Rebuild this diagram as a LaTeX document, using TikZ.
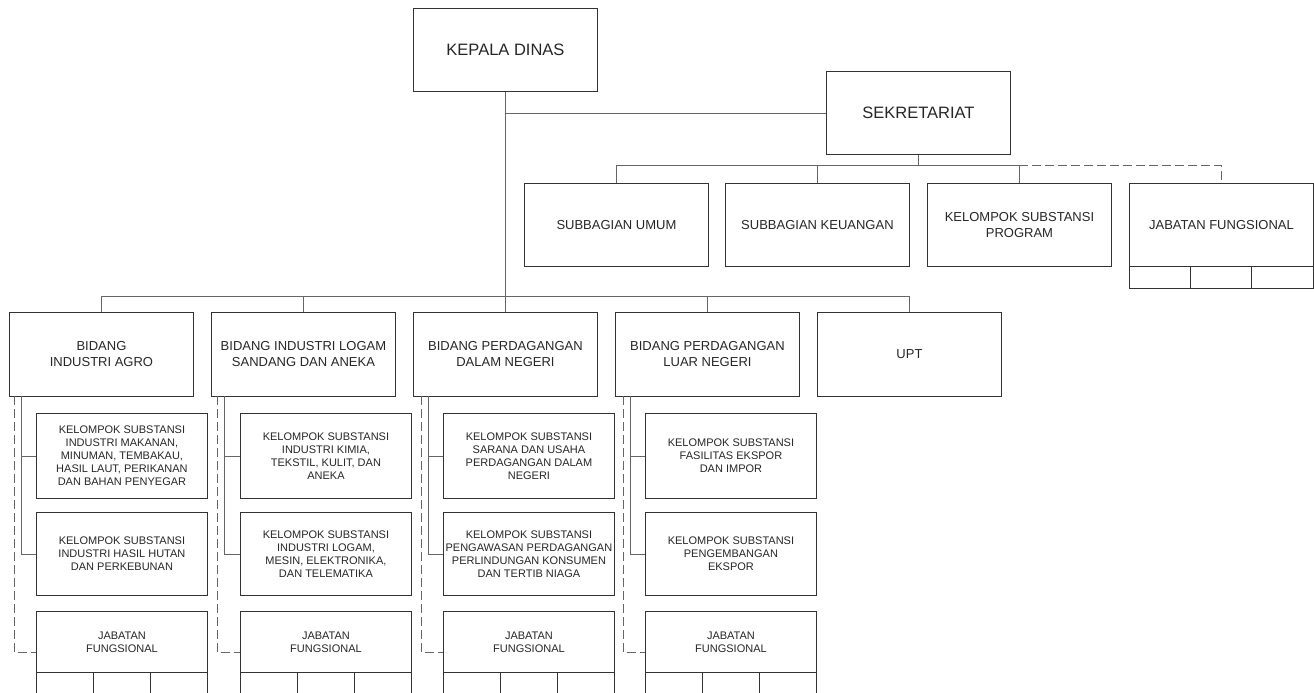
\documentclass[tikz,border=0pt]{standalone}
\usepackage{fontspec}
\setmainfont{Liberation Sans}
\begin{document}
\begin{tikzpicture}[x=1pt,y=-1pt,
  box/.style={draw=black!80, line width=0.9pt, anchor=north west, inner sep=0pt, align=center, text=black!85},
  big/.style={font=\fontsize{16.5}{20}\selectfont},
  mid/.style={font=\fontsize{13}{16}\selectfont},
  sml/.style={font=\fontsize{11}{13}\selectfont},
  conn/.style={draw=black!60, line width=0.9pt},
  dconn/.style={draw=black!60, line width=0.9pt, dash pattern=on 9pt off 4pt},
  cell/.style={draw=black!80, line width=0.9pt}]
\useasboundingbox (0,0) rectangle (1314,693);
\clip (0,0) rectangle (1314,693);

% top level
\node[box,big,minimum width=184pt,minimum height=83pt] (kd) at (413,8) {KEPALA DINAS};
\node[box,big,minimum width=184pt,minimum height=83pt] (sek) at (826,71) {SEKRETARIAT};

% secretariat children
\node[box,mid,minimum width=184pt,minimum height=83pt] (su) at (524,183) {SUBBAGIAN UMUM};
\node[box,mid,minimum width=184pt,minimum height=83pt] (sk) at (725,183) {SUBBAGIAN KEUANGAN};
\node[box,mid,minimum width=184pt,minimum height=83pt] (kp) at (927,183) {KELOMPOK SUBSTANSI\\PROGRAM};
\node[box,mid,minimum width=184pt,minimum height=83pt] (jf) at (1129,183) {JABATAN FUNGSIONAL};
\draw[cell] (jf.south west) rectangle ++(184,22);
\draw[cell] ([xshift=61.3pt]jf.south west) -- ++(0,22);
\draw[cell] ([xshift=122.7pt]jf.south west) -- ++(0,22);

% bidang row
\node[box,mid,minimum width=184pt,minimum height=84pt] (bA) at (9,312) {BIDANG\\INDUSTRI AGRO};
\node[box,mid,minimum width=184pt,minimum height=84pt] (bB) at (211,312) {BIDANG INDUSTRI LOGAM\\SANDANG DAN ANEKA};
\node[box,mid,minimum width=184pt,minimum height=84pt] (bC) at (413,312) {BIDANG PERDAGANGAN\\DALAM NEGERI};
\node[box,mid,minimum width=184pt,minimum height=84pt] (bD) at (615,312) {BIDANG PERDAGANGAN\\LUAR NEGERI};
\node[box,mid,minimum width=184pt,minimum height=84pt] (bU) at (817,312) {UPT};

% column A
\node[box,sml,minimum width=171pt,minimum height=85pt] (kA1) at (36,413) {KELOMPOK SUBSTANSI\\INDUSTRI MAKANAN,\\MINUMAN, TEMBAKAU,\\HASIL LAUT, PERIKANAN\\DAN BAHAN PENYEGAR};
\node[box,sml,minimum width=171pt,minimum height=83pt] (kA2) at (36,512) {KELOMPOK SUBSTANSI\\INDUSTRI HASIL HUTAN\\DAN PERKEBUNAN};
\node[box,sml,minimum width=171pt,minimum height=61pt] (jA) at (36,611) {JABATAN\\FUNGSIONAL};
% column B
\node[box,sml,minimum width=171pt,minimum height=85pt] (kB1) at (240,413) {KELOMPOK SUBSTANSI\\INDUSTRI KIMIA,\\TEKSTIL, KULIT, DAN\\ANEKA};
\node[box,sml,minimum width=171pt,minimum height=83pt] (kB2) at (240,512) {KELOMPOK SUBSTANSI\\INDUSTRI LOGAM,\\MESIN, ELEKTRONIKA,\\DAN TELEMATIKA};
\node[box,sml,minimum width=171pt,minimum height=61pt] (jB) at (240,611) {JABATAN\\FUNGSIONAL};
% column C
\node[box,sml,minimum width=171pt,minimum height=85pt] (kC1) at (443,413) {KELOMPOK SUBSTANSI\\SARANA DAN USAHA\\PERDAGANGAN DALAM\\NEGERI};
\node[box,sml,minimum width=171pt,minimum height=83pt] (kC2) at (443,512) {KELOMPOK SUBSTANSI\\PENGAWASAN PERDAGANGAN\\PERLINDUNGAN KONSUMEN\\DAN TERTIB NIAGA};
\node[box,sml,minimum width=171pt,minimum height=61pt] (jC) at (443,611) {JABATAN\\FUNGSIONAL};
% column D
\node[box,sml,minimum width=171pt,minimum height=85pt] (kD1) at (645,413) {KELOMPOK SUBSTANSI\\FASILITAS EKSPOR\\DAN IMPOR};
\node[box,sml,minimum width=171pt,minimum height=83pt] (kD2) at (645,512) {KELOMPOK SUBSTANSI\\PENGEMBANGAN\\EKSPOR};
\node[box,sml,minimum width=171pt,minimum height=61pt] (jD) at (645,611) {JABATAN\\FUNGSIONAL};

% jabatan sub-cells
\foreach \j in {jA,jB,jC,jD}{
  \draw[cell] (\j.south west) rectangle ++(171,24);
  \draw[cell] ([xshift=57pt]\j.south west) -- ++(0,24);
  \draw[cell] ([xshift=114pt]\j.south west) -- ++(0,24);
}

% connectors top
\coordinate (sbus) at (0,165);
\coordinate (bbus) at (0,296);
\draw[conn] (kd.south) -- (bC.north);
\draw[conn] (kd.south |- sek.west) -- (sek.west);
\draw[conn] (sek.south) -- (sek.south |- sbus);
\draw[conn] (su.north) |- (kp.north |- sbus) -- (kp.north);
\draw[conn] (sk.north) -- (sk.north |- sbus);
\draw[dconn] (kp.north |- sbus) -| (jf.north);

% bidang bus
\draw[conn] (bA.north) |- (bU.north |- bbus) -- (bU.north);
\draw[conn] (bB.north) -- (bB.north |- bbus);
\draw[conn] (bD.north) -- (bD.north |- bbus);

% column connectors
\coordinate (sA) at (21,396);  \coordinate (dA) at (14,396);
\coordinate (sB) at (224,396); \coordinate (dB) at (217,396);
\coordinate (sC) at (428,396); \coordinate (dC) at (421,396);
\coordinate (sD) at (630,396); \coordinate (dD) at (623,396);
\foreach \c in {A,B,C,D}{
  \draw[conn] (s\c) |- (k\c2.west);
  \draw[conn] (s\c |- k\c1.west) -- (k\c1.west);
  \draw[dconn] (d\c) |- ([yshift=-10.5pt]j\c.west);
}
\end{tikzpicture}
\end{document}
